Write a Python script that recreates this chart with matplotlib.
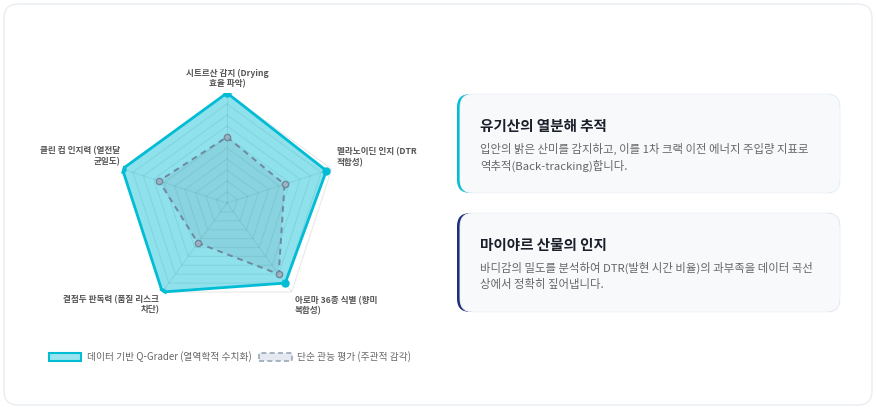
import numpy as np
import matplotlib
matplotlib.use("Agg")
import matplotlib.pyplot as plt
from matplotlib.patches import FancyBboxPatch, Patch

plt.rcParams['font.family'] = ['Noto Sans CJK KR', 'DejaVu Sans']

# data
axis_labels = [
    "시트르산 감지 (Drying\n효율 파악)",
    "멜라노이딘 인지 (DTR\n적합성)",
    "아로마 36종 식별 (향미\n복합성)",
    "결점두 판독력 (품질 리스크\n차단)",
    "클린 컵 인지력 (열전달\n균일도)",
]
qgrader_scores = [100, 95, 90, 100, 100]
sensory_scores = [60, 55, 80, 45, 65]
series_names = ["데이터 기반 Q-Grader (열역학적 수치화)", "단순 관능 평가 (주관적 감각)"]

card_titles = ["유기산의 열분해 추적", "마이야르 산물의 인지"]
card_bodies = [
    "입안의 밝은 산미를 감지하고, 이를 1차 크랙 이전 에너지 주입량 지표로\n역추적(Back-tracking)합니다.",
    "바디감의 밀도를 분석하여 DTR(발현 시간 비율)의 과부족을 데이터 곡선\n상에서 정확히 짚어냅니다.",
]
card_accents = ["#00BCD4", "#1E2F7A"]

W, H = 877, 409
fig = plt.figure(figsize=(W / 100, H / 100), dpi=100)
fig.patch.set_facecolor("white")


def fx(px):
    return px / W


def fy(py):
    return 1 - py / H


# outer container
fig.patches.append(FancyBboxPatch((fx(4), fy(405)), fx(868), 401 / H,
                                  boxstyle="round,pad=0,rounding_size=0.016",
                                  transform=fig.transFigure, facecolor="white",
                                  edgecolor="#e9edf2", linewidth=1.0, zorder=-2,
                                  mutation_aspect=W / H))

# radar chart
cx, cy, R = 227, 203, 110
ax = fig.add_axes([fx(cx - R), fy(cy + R), fx(2 * R), 2 * R / H], projection="polar")
ax.set_zorder(2)
ax.set_theta_zero_location("N")
ax.set_theta_direction(-1)
ax.set_ylim(0, 100)
ax.set_xticks([])
ax.set_yticks([])
ax.grid(False)
ax.spines["polar"].set_visible(False)
ax.patch.set_alpha(0)

n = len(axis_labels)
angles = np.linspace(0, 2 * np.pi, n, endpoint=False)
closed = np.append(angles, angles[0])

grid_color = (0, 0, 0, 0.09)
for level in range(10, 101, 10):
    ax.plot(closed, [level] * (n + 1), color=grid_color, lw=0.8, zorder=1)
for t in angles:
    ax.plot([t, t], [0, 100], color=grid_color, lw=0.8, zorder=1)

q = np.append(qgrader_scores, qgrader_scores[0])
s = np.append(sensory_scores, sensory_scores[0])

ax.fill(closed, q, color="#00BCD4", alpha=0.44, lw=0, zorder=2)
ax.plot(closed, q, color="#00BCD4", lw=2.0, zorder=4)
ax.plot(angles, qgrader_scores, "o", color="#00BCD4", ms=5, zorder=5)

ax.fill(closed, s, color="#64748b", alpha=0.13, lw=0, zorder=3)
ax.plot(closed, s, color="#6b8196", lw=1.4, ls=(0, (3, 2.5)), alpha=0.9, zorder=4)
ax.plot(angles, sensory_scores, "o", mfc="#9fb3c0", mec="#6b8196", mew=1.0,
        ms=4.5, alpha=0.9, zorder=5)

pt = 72 / 100
label_place = [
    ((0, 5 * pt), "center", "bottom"),
    ((5 * pt, 2 * pt), "left", "bottom"),
    ((3 * pt, -4 * pt), "left", "top"),
    ((-3 * pt, -3 * pt), "right", "top"),
    ((-2 * pt, 3 * pt), "right", "bottom"),
]
for t, lab, (off, ha, va) in zip(angles, axis_labels, label_place):
    ax.annotate(lab, xy=(t, 100), xytext=off, textcoords="offset points",
                ha=ha, va=va, fontsize=6.2, fontweight="bold", color="#555555",
                linespacing=1.2, annotation_clip=False)

# legend
handles = [
    Patch(facecolor="#99e4ee", edgecolor="#00BCD4", lw=1.5, label=series_names[0]),
    Patch(facecolor="#e6eaf0", edgecolor="#9aa8b8", lw=1.2, ls=(0, (3, 2)),
          label=series_names[1]),
]
fig.legend(handles=handles, loc="center left", bbox_to_anchor=(fx(49), fy(357)),
           ncol=2, frameon=False, fontsize=7, handlelength=3.3, handleheight=1.0,
           handletextpad=0.6, columnspacing=0.8, borderpad=0, borderaxespad=0,
           labelcolor="#666666")

# cards
card_tops = [94, 213]
card_h = 99
for top, title, body, accent in zip(card_tops, card_titles, card_bodies, card_accents):
    fig.patches.append(FancyBboxPatch((fx(457), fy(top + card_h)), fx(383), card_h / H,
                                      boxstyle="round,pad=0,rounding_size=0.015",
                                      transform=fig.transFigure, facecolor=accent,
                                      edgecolor="none", zorder=1, mutation_aspect=W / H))
    fig.patches.append(FancyBboxPatch((fx(460), fy(top + card_h)), fx(380), card_h / H,
                                      boxstyle="round,pad=0,rounding_size=0.015",
                                      transform=fig.transFigure, facecolor="#f7f9fb",
                                      edgecolor="#eef1f4", lw=0.6, zorder=2,
                                      mutation_aspect=W / H))
    fig.text(fx(480), fy(top + 32), title, fontsize=10.5, fontweight="bold",
             color="#1b1f2a", va="center", ha="left", zorder=3)
    fig.text(fx(480), fy(top + 49), body, fontsize=8.2, color="#666666",
             va="top", ha="left", linespacing=1.5, zorder=3)

fig.savefig("out.png", dpi=100)
